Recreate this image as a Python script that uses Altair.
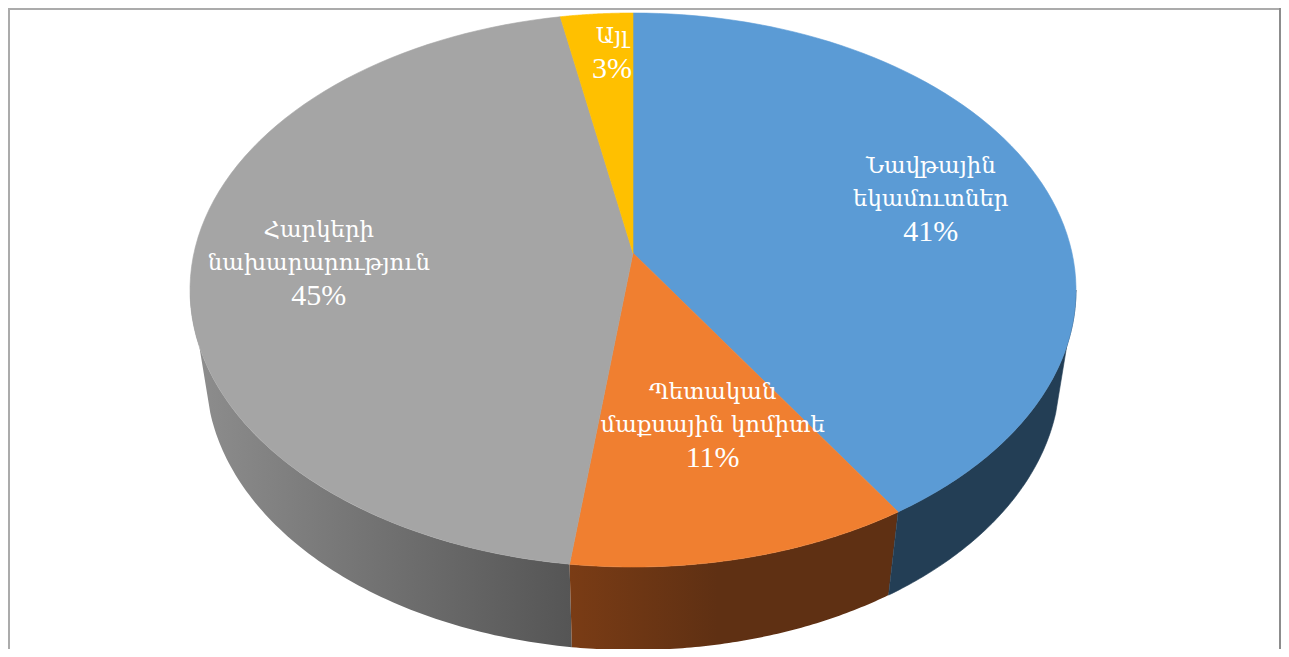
import numpy as np
import pandas as pd
import altair as alt

categories = ["Նավթային\nեկամուտներ", "Պետական\nմաքսային կոմիտե", "Հարկերի\nնախարարություն", "Այլ"]
shares = [41, 11, 45, 3]
top_colors = ["#5B9BD5", "#F07F30", "#A5A5A5", "#FFC000"]
label_angle = [73.7, 164.0, 267.0, 356.3]
label_radius = [0.726, 0.607, 0.713, 0.82]

W, H = 1273, 641
LINE = 33
TILT = 0.1336                      # perspective shift of the pie's centre
TOP = dict(cx=625, cy=282, rx=443, ry=277)
BOTTOM = dict(cx=625, cy=366, rx=427, ry=276)
SILHOUETTE_DROP = 8                # degrees the lower rim's tangent lags the upper rim's


def project(theta_deg, r, e):
    t = np.radians(theta_deg)
    u, v = r * np.sin(t), r * np.cos(t)
    d = 1 + TILT * v
    X = u * np.sqrt(1 - TILT ** 2) / d
    Y = (v + TILT) / d
    return e["cx"] + e["rx"] * X, e["cy"] - e["ry"] * Y


edges = np.concatenate([[0], np.cumsum(shares)]) * 3.6
FRONT_RIGHT = np.degrees(np.arccos(-TILT))   # silhouette tangents of the disc
FRONT_LEFT = 360 - FRONT_RIGHT


def outline(points):
    xs, ys = zip(*points)
    return pd.DataFrame({"x": xs, "y": ys, "i": range(len(xs))})


def top_face(a, b):
    ts = np.linspace(a, b, 80)
    pts = [project(0, 0, TOP)] + [project(t, 1, TOP) for t in ts]
    return outline(pts)


def wall(a, b):
    upper = np.linspace(max(a, FRONT_RIGHT), min(b, FRONT_LEFT), 80)
    lower = np.linspace(max(a, FRONT_RIGHT + SILHOUETTE_DROP),
                        min(b, FRONT_LEFT - SILHOUETTE_DROP), 80)
    pts = [project(t, 1, TOP) for t in upper] + [project(t, 1, BOTTOM) for t in lower[::-1]]
    return outline(pts)


X = alt.X("x:Q", scale=alt.Scale(domain=[0, W]), axis=None)
Y = alt.Y("y:Q", scale=alt.Scale(domain=[0, H], reverse=True), axis=None)
ENC = dict(x=X, y=Y, order="i:Q")


def poly(df, fill):
    stroke = fill if isinstance(fill, str) else None
    kw = dict(stroke=stroke, strokeWidth=0.6) if stroke else dict(strokeWidth=0)
    return alt.Chart(df).mark_line(fill=fill, interpolate="linear-closed", clip=True, **kw).encode(**ENC)


def grad(stops):
    return alt.Gradient(gradient="linear", x1=0, x2=1, y1=0, y2=0,
                        stops=[alt.GradientStop(color=c, offset=o) for o, c in stops])


wall_gray = poly(wall(edges[2], edges[3]), grad([(0, "#8E8E8E"), (1, "#555555")]))
wall_orange = poly(wall(edges[1], edges[2]), grad([(0, "#7A3C15"), (0.45, "#5F3013"), (1, "#5F3013")]))
wall_blue = poly(wall(edges[0], edges[1]), "#233E55")

faces = [poly(top_face(edges[i], edges[i + 1]), top_colors[i]) for i in range(4)]

name_rows, pct_rows = [], []
for i, (c, s) in enumerate(zip(categories, shares)):
    x, y = project(label_angle[i], label_radius[i], TOP)
    n = c.count("\n") + 1
    name_rows.append({"x": x, "y": y - n * LINE / 2, "t": c})
    pct_rows.append({"x": x, "y": y + n * LINE / 2, "t": f"{s}%"})

names = alt.Chart(pd.DataFrame(name_rows)).mark_text(
    font="DejaVu Serif", fontSize=22.8, color="white",
    lineBreak="\n", lineHeight=LINE, align="center", baseline="middle"
).encode(x=X, y=Y, text="t:N")
pcts = alt.Chart(pd.DataFrame(pct_rows)).mark_text(
    font="Liberation Serif", fontSize=30, color="white",
    align="center", baseline="middle"
).encode(x=X, y=Y, text="t:N")

frame_top = alt.Chart().mark_rule(color="#ABABAB", strokeWidth=2).encode(
    x=alt.value(0), x2=alt.value(W), y=alt.value(1))
frame_left = alt.Chart().mark_rule(color="#ABABAB", strokeWidth=2).encode(
    x=alt.value(1), y=alt.value(0), y2=alt.value(H))
frame_right = alt.Chart().mark_rule(color="#8C8C8C", strokeWidth=2).encode(
    x=alt.value(W - 1), y=alt.value(0), y2=alt.value(H))

chart = alt.layer(wall_gray, wall_orange, wall_blue, *faces, names, pcts,
                  frame_top, frame_left, frame_right).properties(
    width=W, height=H, padding=0, autosize=alt.AutoSizeParams(type="none")
).configure_view(stroke=None)

chart.save("out.html", embed_options={"renderer": "svg", "actions": False})
